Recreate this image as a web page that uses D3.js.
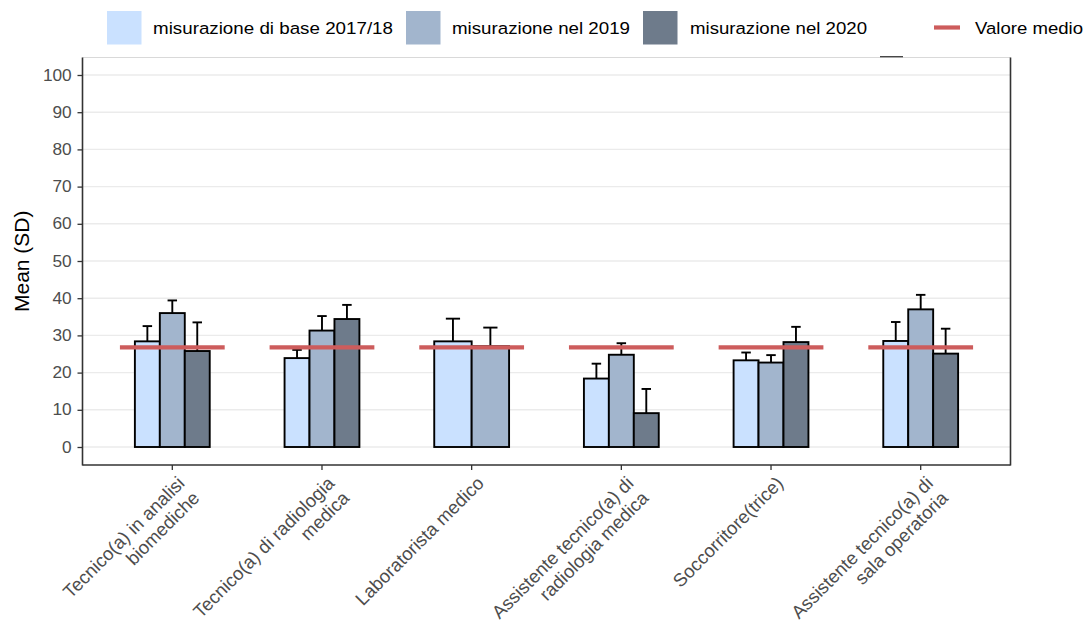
<!DOCTYPE html>
<html>
<head>
<meta charset="utf-8">
<script src="https://cdn.jsdelivr.net/npm/d3@7"></script>
<style>
  html, body { margin: 0; padding: 0; background: #fff; }
  svg { display: block; font-family: "Liberation Sans", Arial, Helvetica, sans-serif; }
</style>
</head>
<body>
<svg id="chart" width="1085" height="622"></svg>
<script>
// ---- data ----
const categories = [
  "Tecnico(a) in analisi\nbiomediche",
  "Tecnico(a) di radiologia\nmedica",
  "Laboratorista medico",
  "Assistente tecnico(a) di\nradiologia medica",
  "Soccorritore(trice)",
  "Assistente tecnico(a) di\nsala operatoria"
];
const seriesNames = ["misurazione di base 2017/18", "misurazione nel 2019", "misurazione nel 2020"];
const mean2017 = [28.4, 23.9, 28.4, 18.4, 23.3, 28.5];
const sd2017   = [4.1, 2.2, 6.1, 4.0, 2.1, 5.1];
const mean2019 = [36.0, 31.3, 27.1, 24.8, 22.7, 37.0];
const sd2019   = [3.4, 3.9, 5.0, 3.1, 2.0, 3.9];
const mean2020 = [25.8, 34.4, null, 9.1, 28.2, 25.1];
const sd2020   = [7.7, 3.8, null, 6.5, 4.1, 6.7];
const overallMean = 26.8;
const meanLabel = "Valore medio";
const yTicks = [0, 10, 20, 30, 40, 50, 60, 70, 80, 90, 100];
const seriesColors = ["#CAE1FF", "#A2B5CD", "#6E7B8B"];
const meanColor = "#CD5C5C";

const means = [mean2017, mean2019, mean2020];
const sds = [sd2017, sd2019, sd2020];

// ---- layout ----
const svg = d3.select("#chart");
const L = 82.5, R = 1010.5, T = 57.5, B = 465;

const x = d3.scaleBand().domain(categories).range([L, R]).paddingInner(0).paddingOuter(0.1);
const y = d3.scaleLinear().domain([-5, 105]).range([465.6, 56.4]);

// gridlines
svg.append("g").selectAll("line").data(yTicks).join("line")
  .attr("x1", L).attr("x2", R)
  .attr("y1", d => y(d)).attr("y2", d => y(d))
  .attr("stroke", "#EBEBEB").attr("stroke-width", 1.4);

// top border (light)
svg.append("line").attr("x1", L).attr("x2", R).attr("y1", T).attr("y2", T)
  .attr("stroke", "#D9D9D9").attr("stroke-width", 1.2);

// build rows
const rows = [];
categories.forEach((c, i) => {
  const present = [0, 1, 2].filter(s => means[s][i] !== null);
  const inner = d3.scaleBand().domain(present).range([-x.step() * 0.25, x.step() * 0.25]);
  present.forEach(s => {
    rows.push({ cat: c, s, mean: means[s][i], sd: sds[s][i],
      x0: x(c) + x.bandwidth() / 2 + inner(s), w: inner.bandwidth() });
  });
});

// bars
svg.append("g").selectAll("rect").data(rows).join("rect")
  .attr("x", d => d.x0).attr("width", d => d.w)
  .attr("y", d => y(d.mean)).attr("height", d => y(0) - y(d.mean))
  .attr("fill", d => seriesColors[d.s])
  .attr("stroke", "#000").attr("stroke-width", 1.9);

// error bars (upper only)
const eg = svg.append("g").attr("stroke", "#000").attr("stroke-width", 1.9);
rows.forEach(d => {
  const cx = d.x0 + d.w / 2, cw = d.w * 0.38;
  eg.append("line").attr("x1", cx).attr("x2", cx).attr("y1", y(d.mean)).attr("y2", y(d.mean + d.sd));
  eg.append("line").attr("x1", cx - cw / 2).attr("x2", cx + cw / 2).attr("y1", y(d.mean + d.sd)).attr("y2", y(d.mean + d.sd));
});

// mean lines
svg.append("g").selectAll("line").data(categories).join("line")
  .attr("x1", d => x(d) + x.bandwidth() / 2 - x.step() * 0.35)
  .attr("x2", d => x(d) + x.bandwidth() / 2 + x.step() * 0.35)
  .attr("y1", y(overallMean)).attr("y2", y(overallMean))
  .attr("stroke", meanColor).attr("stroke-width", 4.2);

// axes lines
svg.append("line").attr("x1", L).attr("x2", L).attr("y1", T).attr("y2", B + 0.5)
  .attr("stroke", "#333").attr("stroke-width", 1.6);
svg.append("line").attr("x1", L).attr("x2", R).attr("y1", B).attr("y2", B)
  .attr("stroke", "#333").attr("stroke-width", 1.6);
svg.append("line").attr("x1", R).attr("x2", R).attr("y1", T).attr("y2", B + 0.5)
  .attr("stroke", "#333").attr("stroke-width", 1.6);
// small mark on top edge
svg.append("line").attr("x1", 880).attr("x2", 903).attr("y1", 56.7).attr("y2", 56.7)
  .attr("stroke", "#333").attr("stroke-width", 1.2);

// y axis
const yAxis = d3.axisLeft(y).tickValues(yTicks).tickSize(5).tickPadding(5);
const yg = svg.append("g").attr("transform", `translate(${L},0)`).call(yAxis);
yg.select(".domain").remove();
yg.selectAll(".tick line").attr("stroke", "#333").attr("stroke-width", 1.3);
yg.selectAll(".tick text").attr("fill", "#4D4D4D").attr("font-size", 16)
  .attr("font-family", "'Liberation Sans', Arial, sans-serif")
  .attr("transform", "scale(1.08,1)");

// x axis
const xAxis = d3.axisBottom(x).tickSize(5).tickFormat("");
const xg = svg.append("g").attr("transform", `translate(0,${B})`).call(xAxis);
xg.select(".domain").remove();
xg.selectAll(".tick line").attr("stroke", "#333").attr("stroke-width", 1.3);

// x labels, rotated 45
categories.forEach(c => {
  const cx = x(c) + x.bandwidth() / 2;
  const g = svg.append("g").attr("transform", `translate(${cx},${B + 6}) rotate(-45)`);
  const t = g.append("text").attr("text-anchor", "end").attr("fill", "#4D4D4D")
    .attr("font-size", 18.5);
  c.split("\n").forEach((line, k) => {
    t.append("tspan").attr("x", 0).attr("y", 19 + k * 21).text(line);
  });
});

// y title
svg.append("text").attr("transform", `translate(29,${(T + B) / 2}) rotate(-90)`)
  .attr("text-anchor", "middle").attr("font-size", 21).attr("fill", "#000")
  .text("Mean (SD)");

// legend
const lg = svg.append("g");
const boxX = [107, 406, 643];
const textX = [153, 452, 690];
const textW = [240, 178, 177];
seriesNames.forEach((n, i) => {
  lg.append("rect").attr("x", boxX[i]).attr("y", 11).attr("width", 34.5).attr("height", 33.5)
    .attr("fill", seriesColors[i]);
  lg.append("text").attr("x", textX[i]).attr("y", 34).attr("font-size", 17.2).attr("fill", "#000")
    .attr("textLength", textW[i]).attr("lengthAdjust", "spacingAndGlyphs").text(n);
});
lg.append("line").attr("x1", 934).attr("x2", 960).attr("y1", 27.5).attr("y2", 27.5)
  .attr("stroke", meanColor).attr("stroke-width", 4.2);
lg.append("text").attr("x", 975).attr("y", 34).attr("font-size", 17.2).attr("fill", "#000")
  .attr("textLength", 108).attr("lengthAdjust", "spacingAndGlyphs").text(meanLabel);
</script>
</body>
</html>
